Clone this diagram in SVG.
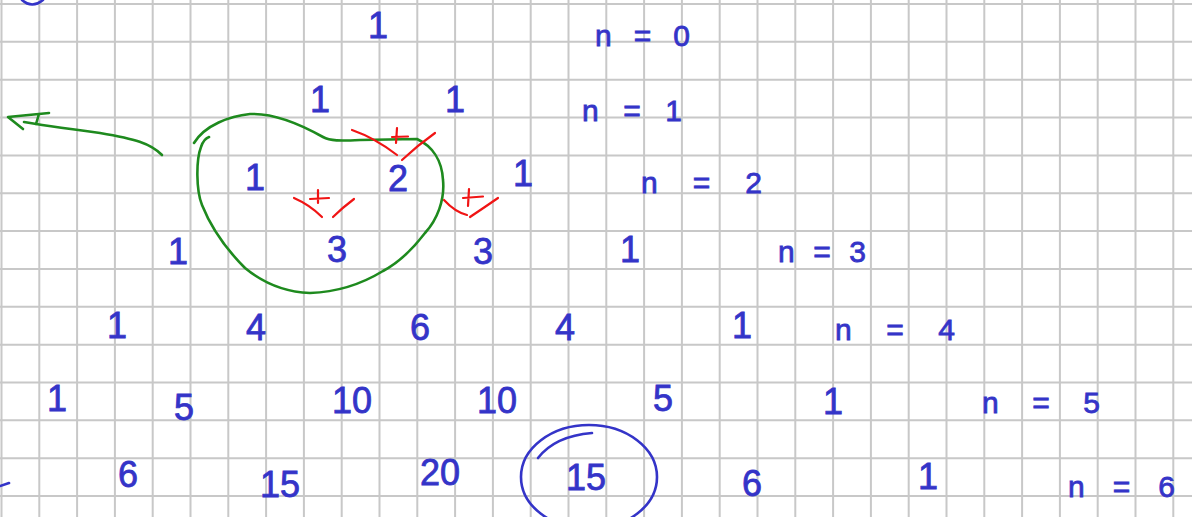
<svg xmlns="http://www.w3.org/2000/svg" width="1192" height="517" viewBox="0 0 1192 517">
<style>
.grid{fill:none;stroke:#c8c8c8;stroke-width:2}
.num{font-family:"Liberation Sans",Arial,sans-serif;font-size:36px;fill:#3434c8;stroke:#3434c8;stroke-width:0.8;text-anchor:middle}
.lbl{font-family:"Liberation Sans",Arial,sans-serif;font-size:30px;fill:#3434c8;stroke:#3434c8;stroke-width:0.8}
.blue{fill:none;stroke:#3434c8;stroke-width:2.6;stroke-linecap:round;stroke-linejoin:round}
.green{fill:none;stroke:#1e8a1e;stroke-width:2.6;stroke-linecap:round;stroke-linejoin:round}
.red{fill:none;stroke:#f01414;stroke-width:2.2;stroke-linecap:round;stroke-linejoin:round}
</style>
<rect width="1192" height="517" fill="#ffffff"/>
<path class="grid" d="M1.5 0V517M39.3 0V517M77.1 0V517M114.9 0V517M152.7 0V517M190.5 0V517M228.3 0V517M266.1 0V517M303.9 0V517M341.7 0V517M379.5 0V517M417.3 0V517M455.1 0V517M492.9 0V517M530.7 0V517M568.5 0V517M606.3 0V517M644.1 0V517M681.9 0V517M719.7 0V517M757.5 0V517M795.3 0V517M833.1 0V517M870.9 0V517M908.7 0V517M946.5 0V517M984.3 0V517M1022.1 0V517M1059.9 0V517M1097.7 0V517M1135.5 0V517M1173.3 0V517M0 4H1192M0 41.85H1192M0 79.7H1192M0 117.55H1192M0 155.4H1192M0 193.25H1192M0 231.1H1192M0 268.95H1192M0 306.8H1192M0 344.65H1192M0 382.5H1192M0 420.35H1192M0 458.2H1192M0 496.05H1192"/>

<!-- fragments at edges -->
<path class="blue" d="M22 0 Q32 9 43 0"/>
<path class="blue" d="M0 486 L9 483"/>

<!-- row 0 -->
<g id="r0c0"><text class="num" x="378" y="38">1</text></g>
<g id="n0"><text class="lbl" x="595" y="46" textLength="95" lengthAdjust="spacing">n = 0</text></g>
<!-- row 1 -->
<g id="r1c0"><text class="num" x="320" y="112">1</text></g>
<g id="r1c1"><text class="num" x="455" y="112">1</text></g>
<g id="n1"><text class="lbl" x="582" y="121" textLength="100" lengthAdjust="spacing">n = 1</text></g>
<!-- row 2 -->
<g id="r2c0"><text class="num" x="255" y="190">1</text></g>
<g id="r2c1"><text class="num" x="398" y="191">2</text></g>
<g id="r2c2"><text class="num" x="523" y="186">1</text></g>
<g id="n2"><text class="lbl" x="641" y="193" textLength="121" lengthAdjust="spacing">n = 2</text></g>
<!-- row 3 -->
<g id="r3c0"><text class="num" x="178" y="264">1</text></g>
<g id="r3c1"><text class="num" x="337" y="262">3</text></g>
<g id="r3c2"><text class="num" x="483" y="264">3</text></g>
<g id="r3c3"><text class="num" x="630" y="262">1</text></g>
<g id="n3"><text class="lbl" x="778" y="262" textLength="88" lengthAdjust="spacing">n = 3</text></g>
<!-- row 4 -->
<g id="r4c0"><text class="num" x="117" y="338">1</text></g>
<g id="r4c1"><text class="num" x="256" y="340">4</text></g>
<g id="r4c2"><text class="num" x="420" y="340">6</text></g>
<g id="r4c3"><text class="num" x="565" y="340">4</text></g>
<g id="r4c4"><text class="num" x="742" y="338">1</text></g>
<g id="n4"><text class="lbl" x="835" y="340" textLength="120" lengthAdjust="spacing">n = 4</text></g>
<!-- row 5 -->
<g id="r5c0"><text class="num" x="57" y="411">1</text></g>
<g id="r5c1"><text class="num" x="184" y="420">5</text></g>
<g id="r5c2"><text class="num" x="352" y="413">10</text></g>
<g id="r5c3"><text class="num" x="497" y="413">10</text></g>
<g id="r5c4"><text class="num" x="663" y="411">5</text></g>
<g id="r5c5"><text class="num" x="833" y="414">1</text></g>
<g id="n5"><text class="lbl" x="982" y="413" textLength="118" lengthAdjust="spacing">n = 5</text></g>
<!-- row 6 -->
<g id="r6c1"><text class="num" x="128" y="487">6</text></g>
<g id="r6c2"><text class="num" x="280" y="497">15</text></g>
<g id="r6c3"><text class="num" x="440" y="485">20</text></g>
<g id="r6c4"><text class="num" x="586" y="490">15</text>
<ellipse class="blue" cx="589" cy="477" rx="68" ry="52"/>
<path class="blue" d="M538 458 Q555 436 592 433"/></g>
<g id="r6c5"><text class="num" x="752" y="496">6</text></g>
<g id="r6c6"><text class="num" x="928" y="489">1</text></g>
<g id="n6"><text class="lbl" x="1068" y="497" textLength="107" lengthAdjust="spacing">n = 6</text></g>

<!-- green loop -->
<g id="loop">
<path class="green" d="M194 143 C205 125 230 116 250 114 C275 113 300 124 323 137 C330 141 340 141 360 140 L417 139 C432 146 442 160 443 180 C445 200 437 220 425 233 C412 250 400 262 383 271 C365 282 340 292 310 293 C285 292 262 282 245 268 C225 248 210 225 202 205 C196 190 196 160 201 147 C203 141 206 138 209 137"/>
</g>

<!-- red marks -->
<g id="sum1">
<path class="red" d="M352 130 Q375 138 397 155 M435 133 Q418 145 402 160 M392 137 L408 136.5 M397 128 L396 143"/>
</g>
<g id="sum2">
<path class="red" d="M294 198 Q310 205 322 217 M354 199 Q342 208 333 217 M310 199 L329 198 M318 190 L318 203"/>
</g>
<g id="sum3">
<path class="red" d="M444 200 Q455 212 467 215 M498 198 Q485 207 470 217 M463 198 L483 196.5 M469 189 L468 206"/>
</g>

<!-- connectors -->
<g id="connectors">
<path class="green" stroke-width="2" d="M162 155 C150 143 135 139 100 133 C70 129 40 125 24 122"/>
<path class="green" stroke-width="2" d="M49 113 L8 117 L23 129 M39 114 L36 124"/>
</g>
</svg>
